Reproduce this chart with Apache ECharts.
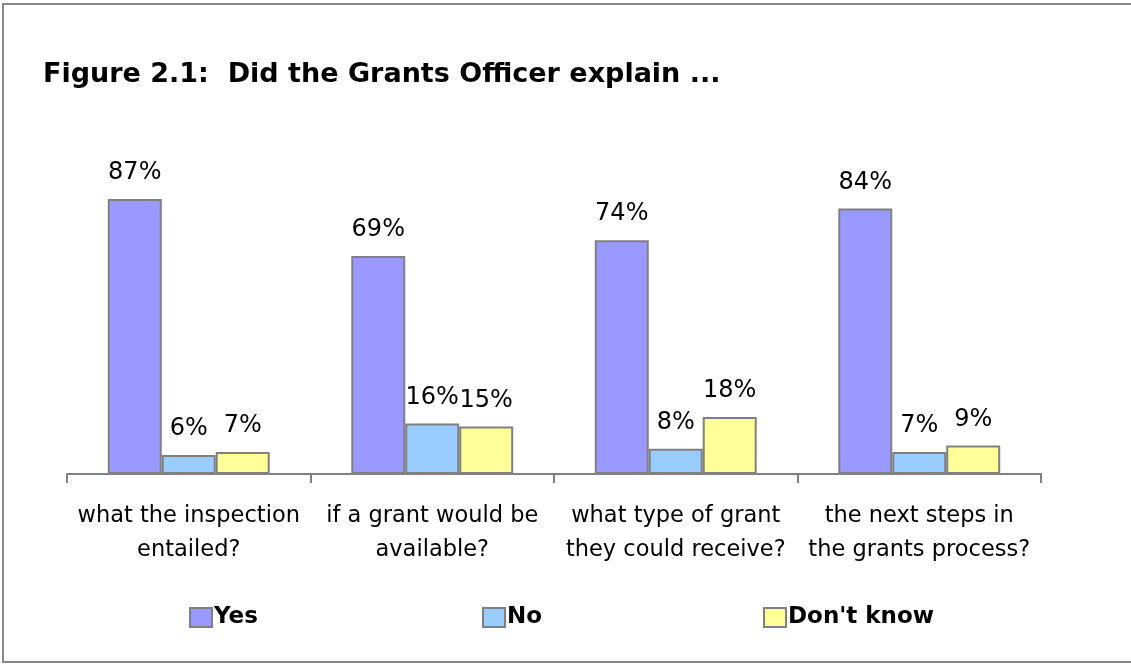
<!DOCTYPE html>
<html>
<head>
<meta charset="utf-8">
<script src="https://cdn.jsdelivr.net/npm/echarts@6/dist/echarts.min.js"></script>
<style>
html,body{margin:0;padding:0;background:#fff;}
#chart{width:1131px;height:664px;}
</style>
</head>
<body>
<div id="chart"></div>
<script>
const categories = [
  "what the inspection\nentailed?",
  "if a grant would be\navailable?",
  "what type of grant\nthey could receive?",
  "the next steps in\nthe grants process?"
];
const seriesNames = ["Yes", "No", "Don't know"];
const yesValues = [87, 69, 74, 84];
const noValues = [6, 16, 8, 7];
const dontKnowValues = [7, 15, 18, 9];
const titleText = "Figure 2.1:  Did the Grants Officer explain ...";

const colors = ["#9999FF", "#99CCFF", "#FFFF99"];
const edge = "#808080";
const font = "DejaVu Sans";

const chart = echarts.init(document.getElementById('chart'));

function mkSeries(name, data, color) {
  return {
    name: name,
    type: 'bar',
    data: data,
    barGap: '0%',
    barCategoryGap: '33.5%',
    itemStyle: { color: color, borderColor: edge, borderWidth: 2 },
    label: {
      show: true, position: 'top', distance: 14,
      formatter: '{c}%', color: '#000', fontSize: 24, fontFamily: font
    },
    emphasis: { disabled: true }
  };
}

function mkLegend(name, left) {
  return {
    data: [name], left: left, top: 606, padding: 0, itemWidth: 22, itemHeight: 19,
    icon: 'rect', itemGap: 0,
    textStyle: { fontSize: 23, fontWeight: 'bold', color: '#000', fontFamily: font, padding: [0,0,0,-3] }
  };
}

chart.setOption({
  animation: false,
  title: {
    text: titleText, left: 38, top: 56,
    textStyle: { fontSize: 27, fontWeight: 'bold', color: '#000', fontFamily: font }
  },
  legend: [mkLegend("Yes", 189), mkLegend("No", 482), mkLegend("Don't know", 763)],
  grid: { left: 67, right: 90, top: 158, bottom: 190 },
  xAxis: {
    type: 'category', data: categories,
    axisLine: { lineStyle: { color: edge, width: 2 } },
    axisTick: { show: true, length: 9, lineStyle: { color: edge, width: 2 } },
    axisLabel: { color: '#000', fontSize: 22.5, fontFamily: font, margin: 25, lineHeight: 34, interval: 0 }
  },
  yAxis: { type: 'value', min: 0, max: 100, show: false, splitLine: { show: false } },
  graphic: [{
    type: 'rect', shape: { x: 3, y: 4, width: 1130, height: 658 },
    style: { fill: 'none', stroke: '#888888', lineWidth: 2 }, silent: true
  }],
  series: [
    mkSeries(seriesNames[0], yesValues, colors[0]),
    mkSeries(seriesNames[1], noValues, colors[1]),
    mkSeries(seriesNames[2], dontKnowValues, colors[2])
  ]
});
</script>
</body>
</html>
